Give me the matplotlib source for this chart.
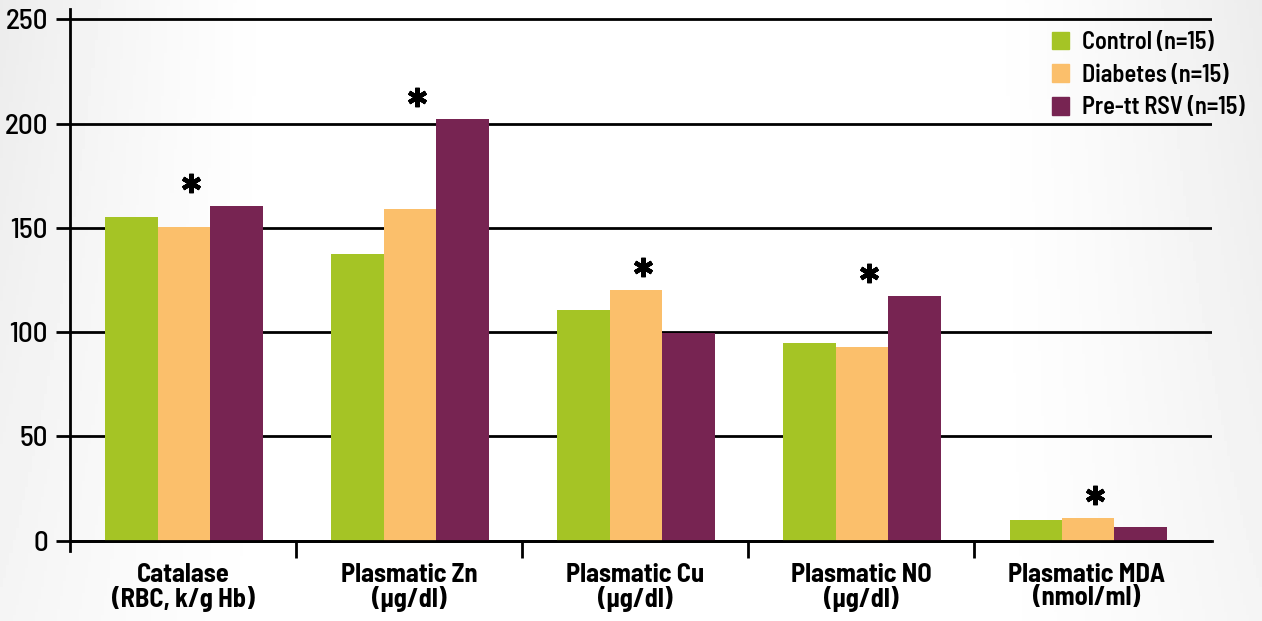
import numpy as np
import matplotlib
matplotlib.use("Agg")
import matplotlib.pyplot as plt
from matplotlib.patches import Patch
from matplotlib.font_manager import FontProperties

plt.rcParams['font.family'] = ['Barlow Semi Condensed', 'DejaVu Sans']
plt.rcParams['font.stretch'] = 'semi-condensed'

categories = ['Catalase\n(RBC, k/g Hb)', 'Plasmatic Zn\n(µg/dl)', 'Plasmatic Cu\n(µg/dl)',
              'Plasmatic NO\n(µg/dl)', 'Plasmatic MDA\n(nmol/ml)']
control = [155, 137.5, 110.5, 95, 10]
diabetes = [150.5, 159, 120, 93, 11]
pre_tt_rsv = [160.5, 202, 99.5, 117.5, 6.5]
starred = [1, 1, 1, 1, 1]
series_names = ['Control (n=15)', 'Diabetes (n=15)', 'Pre-tt RSV (n=15)']
colors = ['#a5c425', '#fbbf6b', '#772452']
yticks = [0, 50, 100, 150, 200, 250]

fig = plt.figure(figsize=(12.62, 6.21), dpi=100)

# faint grey at the left and right edges, white in the middle
bg = fig.add_axes([0, 0, 1, 1], zorder=-10)
xx = np.linspace(-1, 1, 400)
yy = np.linspace(0, 1, 200)
X, Y = np.meshgrid(xx, yy)
edge = np.clip(np.abs(X) - 0.55, 0, None) / 0.45
shade = 1 - 0.075 * edge ** 1.3 * (0.55 + 0.45 * Y)
bg.imshow(shade, cmap='gray', vmin=0, vmax=1, aspect='auto', origin='lower', extent=[0, 1, 0, 1])
bg.axis('off')

ax = fig.add_axes([70 / 1262, 1 - 551 / 621, (1212 - 70) / 1262, (551 - 9) / 621])
ax.patch.set_alpha(0)

x = np.arange(len(categories))
w = 0.232
for k, vals in enumerate([control, diabetes, pre_tt_rsv]):
    ax.bar(x + (k - 1) * w + 0.005, vals, width=w, color=colors[k], zorder=3, label=series_names[k])

# significance asterisks above each group
tops = np.max([control, diabetes, pre_tt_rsv], axis=0)
sig = np.array(starred, dtype=bool)
ax.plot(x[sig] + 0.035, tops[sig] + 11, ls='none', marker=(6, 2, 0), ms=14, mew=3.2,
        color='black', zorder=4, clip_on=False)

for v in yticks:
    ax.axhline(v, color='black', lw=2, zorder=2 if v else 5)

ax.set_ylim(-5, 255)
ax.set_xlim(-0.5, 4.553)

ax.spines['bottom'].set_position(('data', 0))
ax.spines['bottom'].set_linewidth(2)
ax.spines['left'].set_linewidth(2)
for s in ['top', 'right']:
    ax.spines[s].set_visible(False)

# tick geometry first, label text last so the fonts stick
ax.set_yticks(yticks)
ax.set_xticks(x)
ax.set_xticks(np.arange(len(categories) - 1) + 0.5, minor=True)
ax.tick_params(axis='y', length=10, width=2, pad=6)
ax.tick_params(axis='x', which='major', length=0, pad=16)
ax.tick_params(axis='x', which='minor', length=12, width=2, direction='out')

ylab_font = FontProperties(family=['Barlow Semi Condensed', 'DejaVu Sans'], size=21, weight=500)
xlab_font = FontProperties(family=['Barlow Semi Condensed', 'DejaVu Sans'], size=19, weight='bold')
ax.set_yticklabels([str(v) for v in yticks], fontproperties=ylab_font)
ax.set_xticklabels(categories, fontproperties=xlab_font, linespacing=0.98)

handles = [Patch(color=c) for c in colors]
leg = fig.legend(handles, series_names, loc='upper left', bbox_to_anchor=(1052 / 1262, 1 - 31 / 621),
                 frameon=False, prop={'size': 17.5, 'weight': 600}, handlelength=0.7,
                 handleheight=0.75, handletextpad=0.55, labelspacing=0.4, borderaxespad=0,
                 borderpad=0)

fig.savefig('out.png', dpi=100)
